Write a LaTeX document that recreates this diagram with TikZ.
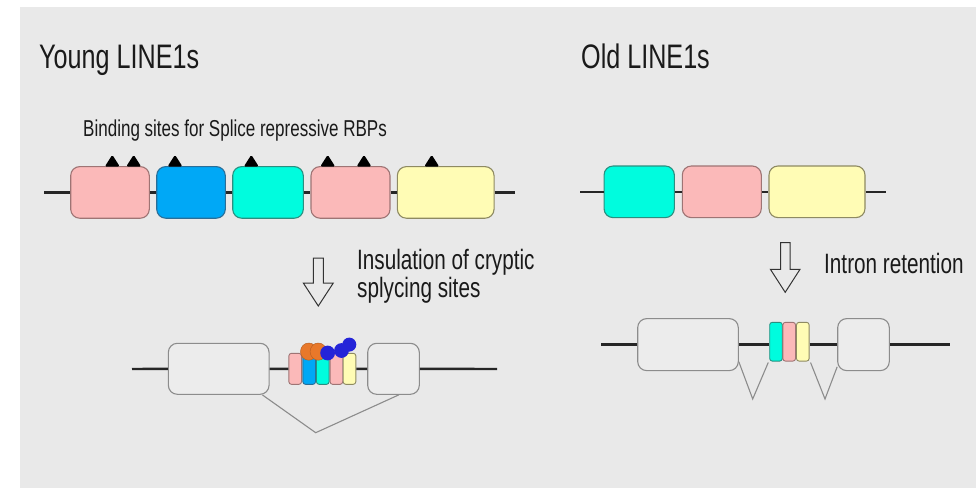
\documentclass[tikz,border=0pt]{standalone}
\usepackage{fontspec}
\setmainfont{Liberation Sans}[FakeStretch=0.74]
\usetikzlibrary{calc}
\definecolor{bgc}{HTML}{E9E9E9}
\definecolor{pinkF}{HTML}{FBB9B9}\definecolor{pinkD}{HTML}{9E7474}
\definecolor{blueF}{HTML}{00A8F6}\definecolor{blueD}{HTML}{2A6E98}
\definecolor{cyanF}{HTML}{00FCDE}\definecolor{cyanD}{HTML}{2A8F80}
\definecolor{yelF}{HTML}{FFFCB5}\definecolor{yelD}{HTML}{8E8A62}
\definecolor{grayF}{HTML}{ECECEC}\definecolor{grayD}{HTML}{8C8C8C}
\definecolor{orng}{HTML}{E8782A}\definecolor{dblue}{HTML}{2424D8}
\definecolor{txt}{HTML}{1A1A1A}
\begin{document}
\begin{tikzpicture}[x=1pt,y=-1pt,
  exon/.style={draw, rounded corners=9pt, line width=1.1pt, inner sep=0pt, minimum height=51.6pt},
  ex pink/.style={exon, fill=pinkF, draw=pinkD},
  ex blue/.style={exon, fill=blueF, draw=blueD},
  ex cyan/.style={exon, fill=cyanF, draw=cyanD},
  ex yel/.style={exon, fill=yelF, draw=yelD},
  ex gray/.style={exon, fill=grayF, draw=grayD},
  bar/.style={draw, rounded corners=2.5pt, line width=0.9pt, inner sep=0pt, minimum width=12.6pt},
  strand/.style={line width=2.4pt, draw=black!85},
  vline/.style={line width=1.1pt, draw=grayD},
  site/.style={fill=black, rounded corners=1.5pt},
  label/.style={text=txt, inner sep=0pt, anchor=base west},
  hollow/.style={draw=black!80, line width=1pt, line join=miter},
]
\useasboundingbox (0,0) rectangle (979,488);
\fill[bgc] (20,7) rectangle (976,488);

% titles
\node[label, font=\fontsize{34}{34}\selectfont] (tY) at (39,68) {Young LINE1s};
\node[label, font=\fontsize{34}{34}\selectfont] (tO) at (581,68) {Old LINE1s};
\node[label, font=\fontsize{23}{23}\selectfont] (tB) at (83,136) {Binding sites for Splice repressive RBPs};

% young top row
\coordinate (ys) at (44,192.4);
\coordinate (ye) at (515,192.4);
\node[ex pink, minimum width=78.6pt] (b1) at (110,192.4) {};
\node[ex blue, minimum width=68.6pt] (b2) at (191,192.4) {};
\node[ex cyan, minimum width=70.6pt] (b3) at (268,192.4) {};
\node[ex pink, minimum width=79pt] (b4) at (350.5,192.4) {};
\node[ex yel, minimum width=96.7pt] (b5) at (445.7,192.4) {};
\draw[strand] (ys) -- (b1.west) (b1.east) -- (b2.west) (b2.east) -- (b3.west)
  (b3.east) -- (b4.west) (b4.east) -- (b5.west) (b5.east) -- (ye);
\foreach \x in {112.3,133.7,175,251.3,327.7,364,431.7}
  \fill[site] (\x-7.5,166.6) -- (\x,154.8) -- (\x+7.5,166.6) -- cycle;

% old top row
\coordinate (os) at (580,191.8);
\coordinate (oe) at (886,191.8);
\node[ex cyan, minimum width=70.3pt] (o1) at (639.2,191.8) {};
\node[ex pink, minimum width=79pt] (o2) at (721.8,191.8) {};
\node[ex yel, minimum width=96pt] (o3) at (817,191.8) {};
\draw[strand] (os) -- (o1.west) (o1.east) -- (o2.west) (o2.east) -- (o3.west) (o3.east) -- (oe);

% arrows
\draw[hollow] (313.3,258) -- (323.3,258) -- (323.3,283) -- (333.3,283) -- (318.3,306)
  -- (303.3,283) -- (313.3,283) -- cycle;
\draw[hollow] (780.5,242.7) -- (790,242.7) -- (790,269.3) -- (800,269.3) -- (785.2,292.3)
  -- (770.4,269.3) -- (780.5,269.3) -- cycle;
\node[label, font=\fontsize{28}{22}\selectfont, align=left] (tI) at (357,297) {Insulation of cryptic\\splycing sites};
\node[label, font=\fontsize{28}{28}\selectfont] (tR) at (824,273) {Intron retention};

% bottom left
\coordinate (ls) at (132,369);
\coordinate (le) at (497,369);
\node[ex gray, minimum width=100.7pt, minimum height=51pt] (g1) at (218.7,368.8) {};
\node[ex gray, minimum width=51.6pt, minimum height=51pt] (g2) at (393.5,368.8) {};
\node[bar, fill=pinkF, draw=pinkD, minimum height=31pt] (c1) at (295.2,368.8) {};
\node[bar, fill=blueF, draw=blueD, minimum height=31pt] (c2) at (309.2,368.8) {};
\node[bar, fill=cyanF, draw=cyanD, minimum height=31pt] (c3) at (322.8,368.8) {};
\node[bar, fill=pinkF, draw=pinkD, minimum height=31pt] (c4) at (336.4,368.8) {};
\node[bar, fill=yelF, draw=yelD, minimum height=31pt] (c5) at (349.5,368.8) {};
\draw[strand] (ls) -- (g1.west) (g1.east) -- (c1.west) (c5.east) -- (g2.west) (g2.east) -- (le);
\fill[orng, draw=orng!80!black, line width=0.5pt] (308.7,351.6) ellipse [x radius=8.2pt, y radius=8.6pt];
\fill[orng, draw=orng!80!black, line width=0.5pt] (318.3,351.6) ellipse [x radius=8.2pt, y radius=8.6pt];
\fill[dblue] (349.3,344.6) circle [radius=7pt];
\fill[dblue] (341.5,350.5) circle [radius=7.4pt];
\fill[dblue] (327.6,353) circle [radius=7.4pt];
\coordinate (lv) at (315.7,432.7);
\draw[vline] ([xshift=-7.3pt]g1.south east) -- (lv) -- ([xshift=-21pt]g2.south east);

% bottom right
\coordinate (rs) at (601,344.6);
\coordinate (re) at (950,344.6);
\node[ex gray, minimum width=100.6pt, minimum height=52pt] (h1) at (688,344.6) {};
\node[ex gray, minimum width=51.6pt, minimum height=52pt] (h2) at (863.5,344.6) {};
\node[bar, fill=cyanF, draw=cyanD, minimum height=38.7pt] (d1) at (776,341.7) {};
\node[bar, fill=pinkF, draw=pinkD, minimum height=38.7pt] (d2) at (789.2,341.7) {};
\node[bar, fill=yelF, draw=yelD, minimum height=38.7pt] (d3) at (802.8,341.7) {};
\draw[strand] (rs) -- (h1.west) (h1.east) -- (h1.east -| d1.west) (h2.west -| d3.east) -- (h2.west) (h2.east) -- (re);
\coordinate (rv1) at (752.7,399);
\coordinate (rv2) at (825,399);
\draw[vline] ([yshift=9.3pt]h1.south east) -- (rv1) -- ([xshift=-1pt,yshift=-1pt]d1.south west);
\draw[vline] ([xshift=1pt,yshift=-1pt]d3.south east) -- (rv2) -- ([yshift=4.3pt]h2.south west);
\end{tikzpicture}
\end{document}
